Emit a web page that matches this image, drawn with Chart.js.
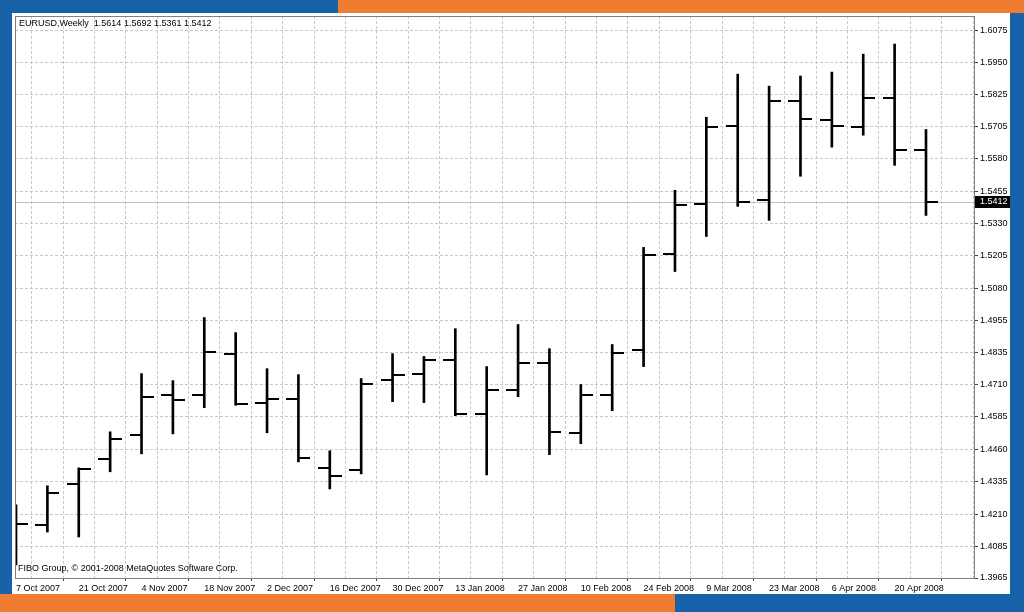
<!DOCTYPE html>
<html>
<head>
<meta charset="utf-8">
<title>EURUSD Weekly</title>
<script src="https://cdn.jsdelivr.net/npm/chart.js@4.4.1/dist/chart.umd.min.js"></script>
<style>
  html, body { margin: 0; padding: 0; }
  body { width: 1024px; height: 612px; background: #1862a9; position: relative; overflow: hidden; }
  .band { position: absolute; background: #ee7d32; }
  #panel { position: absolute; left: 12px; top: 13px; width: 998px; height: 581px; background: #fff; }
</style>
</head>
<body>
<div class="band" style="left:338px;top:0;width:686px;height:13px"></div>
<div class="band" style="left:0;top:594px;width:675px;height:18px"></div>
<div id="panel"><canvas id="chart"></canvas></div>
<script>
// weekly bars, EURUSD
const dates = ['7 Oct 2007', '14 Oct 2007', '21 Oct 2007', '28 Oct 2007', '4 Nov 2007', '11 Nov 2007',
  '18 Nov 2007', '25 Nov 2007', '2 Dec 2007', '9 Dec 2007', '16 Dec 2007', '23 Dec 2007',
  '30 Dec 2007', '6 Jan 2008', '13 Jan 2008', '20 Jan 2008', '27 Jan 2008', '3 Feb 2008',
  '10 Feb 2008', '17 Feb 2008', '24 Feb 2008', '2 Mar 2008', '9 Mar 2008', '16 Mar 2008',
  '23 Mar 2008', '30 Mar 2008', '6 Apr 2008', '13 Apr 2008', '20 Apr 2008', '27 Apr 2008'];
const opens = [1.4200, 1.4169, 1.4328, 1.4424, 1.4517, 1.4671, 1.4671, 1.4829, 1.4640, 1.4655,
  1.4389, 1.4382, 1.4729, 1.4752, 1.4806, 1.4598, 1.4690, 1.4794, 1.4524, 1.4671,
  1.4841, 1.5211, 1.5404, 1.5705, 1.5419, 1.5801, 1.5728, 1.5700, 1.5813, 1.5614];
const highs = [1.4247, 1.4320, 1.4389, 1.4528, 1.4752, 1.4725, 1.4968, 1.4910, 1.4771, 1.4748,
  1.4455, 1.4733, 1.4829, 1.4818, 1.4925, 1.4779, 1.4941, 1.4848, 1.4710, 1.4864,
  1.5238, 1.5458, 1.5739, 1.5905, 1.5859, 1.5898, 1.5913, 1.5982, 1.6021, 1.5692];
const lows = [1.4015, 1.4142, 1.4123, 1.4374, 1.4443, 1.4520, 1.4621, 1.4630, 1.4524, 1.4412,
  1.4308, 1.4366, 1.4644, 1.4640, 1.4590, 1.4362, 1.4663, 1.4440, 1.4482, 1.4609,
  1.4779, 1.5145, 1.5280, 1.5396, 1.5342, 1.5512, 1.5624, 1.5670, 1.5554, 1.5361];
const closes = [1.4173, 1.4293, 1.4385, 1.4501, 1.4663, 1.4652, 1.4837, 1.4634, 1.4655, 1.4428,
  1.4358, 1.4713, 1.4748, 1.4806, 1.4598, 1.4690, 1.4794, 1.4528, 1.4671, 1.4833,
  1.5207, 1.5400, 1.5701, 1.5412, 1.5801, 1.5732, 1.5705, 1.5813, 1.5614, 1.5412];
const yLabels = ['1.3965', '1.4085', '1.4210', '1.4335', '1.4460', '1.4585', '1.4710', '1.4835', '1.4955',
  '1.5080', '1.5205', '1.5330', '1.5455', '1.5580', '1.5705', '1.5825', '1.5950', '1.6075'];

const FONT = 'Liberation Sans';
const last = closes.length - 1;

// open / close ticks as little images
function tickImage(side) {
  const c = document.createElement('canvas');
  c.width = 24;
  c.height = 2;
  const g = c.getContext('2d');
  g.fillStyle = '#000';
  g.fillRect(side === 'left' ? 0 : 12, 0, 12, 2);
  return c;
}

const mtDecor = {
  id: 'mtDecor',
  beforeDatasetsDraw(chart) {
    const { ctx, chartArea: a, scales: { y } } = chart;
    const py = Math.round(y.getPixelForValue(closes[last])) + 0.5;
    ctx.save();
    ctx.strokeStyle = '#c0c0c0';
    ctx.lineWidth = 1;
    ctx.beginPath();
    ctx.moveTo(a.left, py);
    ctx.lineTo(a.right, py);
    ctx.stroke();
    ctx.restore();
  },
  afterDraw(chart) {
    const { ctx, chartArea: a, scales: { y } } = chart;
    ctx.save();
    ctx.strokeStyle = '#808080';
    ctx.lineWidth = 1;
    ctx.strokeRect(a.left + 0.5, a.top + 0.5, a.right - a.left, a.bottom - a.top);

    const py = Math.round(y.getPixelForValue(closes[last]));
    ctx.fillStyle = '#000';
    ctx.fillRect(a.right + 1, py - 6, 36, 12);
    ctx.font = '9px "' + FONT + '"';
    ctx.textBaseline = 'middle';
    ctx.fillStyle = '#fff';
    ctx.fillText(closes[last].toFixed(4), a.right + 6, py);

    ctx.fillStyle = '#000';
    const ohlc = [opens[last], highs[last], lows[last], closes[last]].map(v => v.toFixed(4)).join(' ');
    ctx.fillText('EURUSD,Weekly  ' + ohlc, a.left + 4, a.top + 8);
    ctx.fillText('FIBO Group, © 2001-2008 MetaQuotes Software Corp.', a.left + 3, a.bottom - 9);
    ctx.restore();
  }
};

new Chart(document.getElementById('chart'), {
  type: 'bar',
  data: {
    datasets: [{
      type: 'bar',
      data: dates.map((d, i) => ({ x: i, y: [lows[i], highs[i]] })),
      backgroundColor: '#000',
      borderWidth: 0,
      barThickness: 2
    }, {
      type: 'line',
      data: opens.map((v, i) => ({ x: i, y: v })),
      showLine: false,
      pointStyle: tickImage('left'),
      pointRadius: 6
    }, {
      type: 'line',
      data: closes.map((v, i) => ({ x: i, y: v })),
      showLine: false,
      pointStyle: tickImage('right'),
      pointRadius: 6
    }]
  },
  options: {
    responsive: true,
    maintainAspectRatio: false,
    animation: false,
    events: [],
    layout: { autoPadding: false, padding: { left: 3, top: 3, right: 0, bottom: 0 } },
    plugins: { legend: { display: false }, tooltip: { enabled: false } },
    scales: {
      x: {
        type: 'linear',
        min: -0.032,
        max: 30.53,
        offset: false,
        afterBuildTicks: s => {
          s.ticks = [];
          for (let i = 0; i <= dates.length; i++) s.ticks.push({ value: i });
        },
        afterFit: s => {
          s.height = 16;
          s.paddingLeft = 0;
          s.paddingRight = 0;
        },
        border: { color: '#404040', dash: [3, 2] },
        grid: {
          color: '#c8c8c8',
          tickLength: 3,
          tickBorderDash: [],
          tickColor: c => (c.tick && c.tick.value % 2 === 0) ? '#404040' : 'rgba(0,0,0,0)'
        },
        ticks: {
          autoSkip: false,
          maxRotation: 0,
          minRotation: 0,
          align: 'start',
          padding: 2,
          color: '#000',
          font: { family: FONT, size: 9 },
          callback: v => (v % 2 === 0 && dates[v]) ? dates[v] : ''
        }
      },
      y: {
        type: 'linear',
        position: 'right',
        min: 1.3965,
        max: 1.6129,
        afterBuildTicks: s => { s.ticks = yLabels.map(v => ({ value: parseFloat(v) })); },
        afterFit: s => {
          s.width = 36;
          s.paddingTop = 0;
          s.paddingBottom = 0;
        },
        border: { color: '#404040', dash: [3, 2] },
        grid: { color: '#c8c8c8', tickLength: 4, tickBorderDash: [], tickColor: '#404040' },
        ticks: {
          padding: 2,
          color: '#000',
          font: { family: FONT, size: 9 },
          callback: (v, i) => yLabels[i]
        }
      }
    }
  },
  plugins: [mtDecor]
});
</script>
</body>
</html>
